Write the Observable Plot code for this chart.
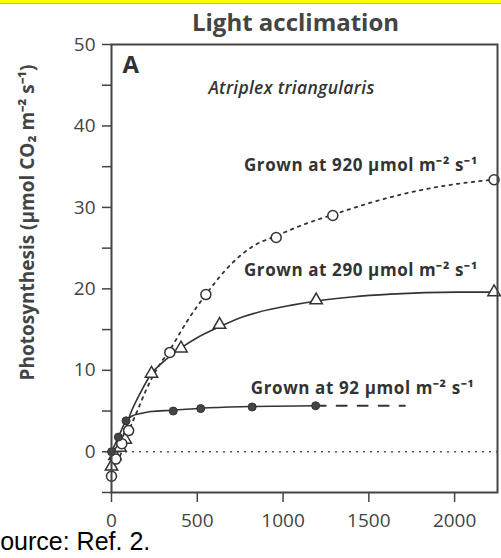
<!DOCTYPE html>
<html>
<head>
<meta charset="utf-8">
<script src="https://cdn.jsdelivr.net/npm/d3@7"></script>
<script src="https://cdn.jsdelivr.net/npm/@observablehq/plot@0.6"></script>
<style>
  html, body { margin: 0; padding: 0; background: #fff; width: 501px; height: 558px; overflow: hidden; }
  #wrap { position: relative; width: 501px; height: 558px; }
  #band { position: absolute; left: 0; top: 0; width: 501px; height: 3px; background: #ffff00; border-bottom: 1.5px solid #b4b4b4; z-index: 2; }
</style>
</head>
<body>
<div id="wrap"><div id="band"></div></div>
<script>
// ---- data ----
const xTicks = [0, 500, 1000, 1500, 2000];
const yTicks = [0, 10, 20, 30, 40, 50];
const yMinorTicks = [-5, 5, 15, 25, 35, 45];

// measured points (PPFD, photosynthesis)
const light920 = [0, 25, 60, 100, 340, 550, 960, 1290, 2230];
const photo920 = [-3.0, -0.9, 1.0, 2.6, 12.2, 19.3, 26.3, 29.0, 33.4];
const light290 = [0, 20, 50, 80, 233, 405, 630, 1193, 2230];
const photo290 = [-1.8, -0.5, 0.5, 1.5, 9.6, 12.7, 15.6, 18.6, 19.6];
const light92 = [0, 40, 85, 360, 520, 820, 1190];
const photo92 = [0, 1.8, 3.8, 5.0, 5.3, 5.5, 5.65];

// fitted response curves
const fit920X = [0, 50, 100, 150, 200, 260, 340, 440, 550, 700, 830, 960, 1120, 1290, 1530, 1820, 2020, 2230];
const fit920Y = [-3.0, -0.5, 2.5, 5.0, 7.5, 10.0, 12.5, 16.0, 19.3, 23.1, 25.3, 26.5, 27.9, 29.1, 30.7, 32.2, 32.9, 33.4];
const fit290X = [0, 50, 111, 170, 233, 300, 402, 499, 626, 771, 850, 1050, 1193, 1400, 1626, 2015, 2230];
const fit290Y = [-1.8, 0.8, 4.7, 7.3, 9.6, 11.0, 12.7, 14.0, 15.3, 16.6, 17.1, 18.0, 18.5, 19.0, 19.35, 19.6, 19.6];
const fit92X = [0, 40, 85, 120, 170, 230, 360, 520, 800, 1190];
const fit92Y = [0, 1.8, 3.8, 4.4, 4.7, 4.95, 5.1, 5.35, 5.55, 5.65];
const ext92X = [1190, 1710];
const ext92Y = [5.65, 5.65];

const title = "Light acclimation";
const yLabel = "Photosynthesis (µmol CO₂ m⁻² s⁻¹)";
const species = "Atriplex triangularis";
const panel = "A";
const labels = ["Grown at 920 µmol m⁻² s⁻¹", "Grown at 290 µmol m⁻² s⁻¹", "Grown at 92 µmol m⁻² s⁻¹"];
const caption = "Source: Ref. 2.";

// ---- tables ----
const pts = (X, Y) => X.map((x, i) => ({x, y: Y[i]}));
const d920 = pts(light920, photo920), d290 = pts(light290, photo290), d92 = pts(light92, photo92);
const f920 = pts(fit920X, fit920Y), f290 = pts(fit290X, fit290Y), f92 = pts(fit92X, fit92Y), e92 = pts(ext92X, ext92Y);

const ink = "#333";
const lab = {textAnchor: "end", fontSize: 17, fontWeight: "bold", fill: ink};
const chart = Plot.plot({
  width: 501,
  height: 558,
  marginLeft: 111,
  marginRight: 4,
  marginTop: 44,
  marginBottom: 66,
  style: {fontFamily: "'Open Sans', sans-serif", color: "#444", background: "white", overflow: "visible"},
  x: {domain: [0, 2250]},
  y: {domain: [-5, 50]},
  marks: [
    Plot.ruleY([0], {stroke: "#555", strokeWidth: 1.6, strokeDasharray: "2,5"}),
    Plot.line(f920, {x: "x", y: "y", curve: "monotone-x", stroke: ink, strokeWidth: 1.8, strokeDasharray: "2.5,5"}),
    Plot.line(f290, {x: "x", y: "y", curve: "monotone-x", stroke: ink, strokeWidth: 1.6}),
    Plot.line(f92, {x: "x", y: "y", curve: "monotone-x", stroke: ink, strokeWidth: 1.6}),
    Plot.line(e92, {x: "x", y: "y", stroke: ink, strokeWidth: 2, strokeDasharray: "10,11"}),
    Plot.dot(d290, {x: "x", y: "y", symbol: "triangle", r: 4.6, fill: "white", stroke: ink, strokeWidth: 1.5}),
    Plot.dot(d920, {x: "x", y: "y", symbol: "circle", r: 5, fill: "white", stroke: ink, strokeWidth: 1.5}),
    Plot.dot(d92, {x: "x", y: "y", symbol: "circle", r: 4, fill: "#444", stroke: ink, strokeWidth: 1}),
    Plot.text([labels[0]], {x: 2135, y: 35.2, ...lab}),
    Plot.text([labels[1]], {x: 2135, y: 22.3, ...lab}),
    Plot.text([labels[2]], {x: 2115, y: 7.8, ...lab}),
    Plot.text([panel], {frameAnchor: "top-left", dx: 11, dy: 21, textAnchor: "start", lineAnchor: "middle", fontSize: 24, fontWeight: "bold", fill: ink}),
    Plot.text([species], {frameAnchor: "top-left", dx: 180, dy: 44, textAnchor: "middle", lineAnchor: "middle", fontSize: 17.5, fontWeight: 600, fontStyle: "italic", fill: ink}),
    Plot.text([title], {frameAnchor: "top", dx: -9, dy: -21, textAnchor: "middle", lineAnchor: "middle", fontSize: 24, fontWeight: "bold", fill: "#444"}),
    Plot.text([yLabel], {frameAnchor: "left", dx: -84, dy: -46, rotate: -90, textAnchor: "middle", lineAnchor: "middle", fontSize: 19, fontWeight: "bold", fill: "#444"}),
    Plot.text([caption], {frameAnchor: "bottom-left", dx: -128, dy: 49, textAnchor: "start", lineAnchor: "middle", fontSize: 25, fill: "#000", fontFamily: "'Liberation Sans', sans-serif"}),
    Plot.axisY(yMinorTicks, {tickSize: 9, tickFormat: () => "", stroke: "#444", strokeWidth: 1.5, label: null}),
    Plot.axisY(yTicks, {tickSize: 9, tickPadding: 7, fontSize: 19, stroke: "#444", strokeWidth: 1.5, label: null}),
    Plot.axisX(xTicks, {tickSize: 10, tickPadding: 11, fontSize: 19, tickFormat: d => String(d), stroke: "#444", strokeWidth: 1.5, label: null}),
    Plot.frame({stroke: "#444", strokeWidth: 2})
  ]
});
// widen the letter spacing of the in-plot annotations, as in the reference
d3.select(chart).selectAll("text").each(function() {
  const t = this.textContent;
  if (labels.includes(t)) this.setAttribute("letter-spacing", "0.6");
  if (t === species) this.setAttribute("letter-spacing", "0.3");
});
document.getElementById("wrap").appendChild(chart);
chart.style.position = "absolute";
chart.style.left = "0";
chart.style.top = "0";
chart.style.zIndex = "1";
</script>
</body>
</html>
